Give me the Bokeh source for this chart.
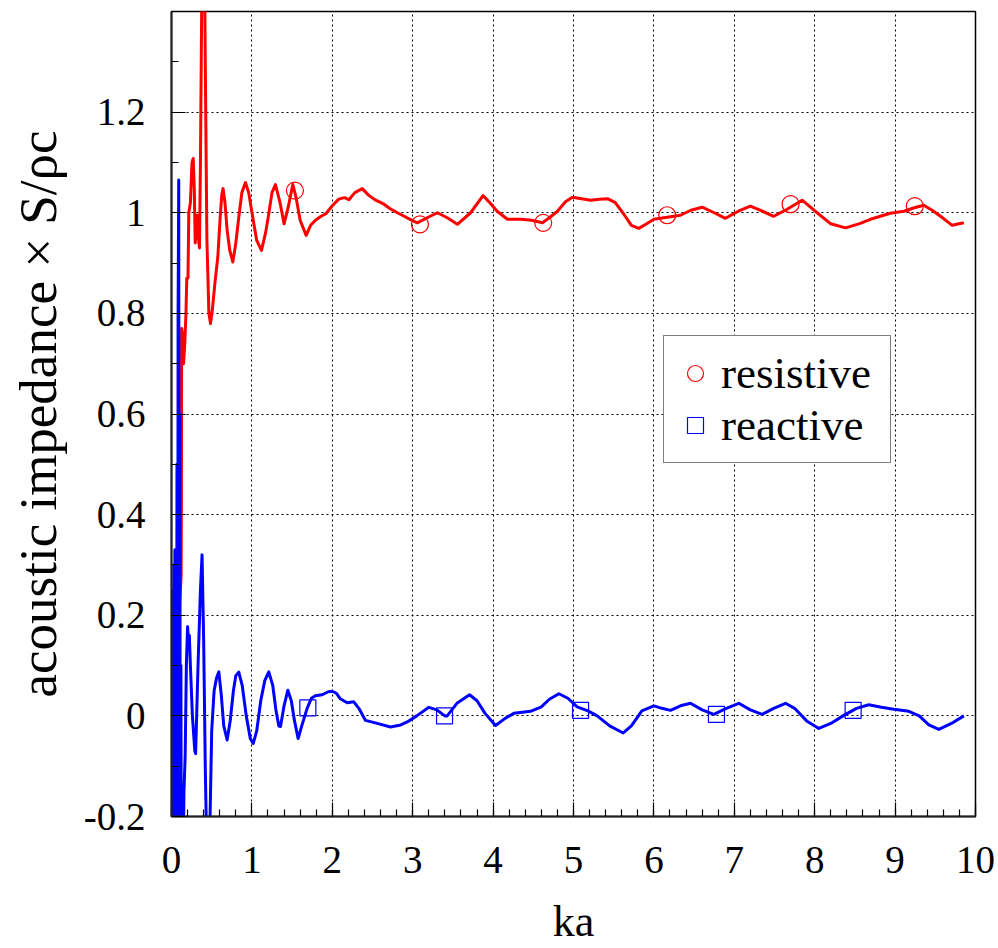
from bokeh.plotting import figure
from bokeh.models import (FixedTicker, CustomJSTickFormatter, Legend, LegendItem, Range1d)
from bokeh.embed import file_html
from bokeh.resources import INLINE

# ---- data ----
res_x = [0.0, 0.05, 0.1, 0.12, 0.123, 0.126, 0.135, 0.15, 0.165, 0.18, 0.19, 0.205, 0.215, 0.235,
         0.255, 0.27, 0.283, 0.295, 0.31, 0.322, 0.335, 0.348, 0.36, 0.375, 0.39, 0.405, 0.42, 0.44,
         0.465, 0.485, 0.51, 0.54, 0.576, 0.605, 0.625, 0.642, 0.665, 0.692, 0.725, 0.763, 0.8, 0.837,
         0.875, 0.92, 0.96, 1.003, 1.06, 1.119, 1.17, 1.21, 1.25, 1.293, 1.35, 1.40, 1.45, 1.509, 1.55,
         1.60, 1.675, 1.73, 1.79, 1.86, 1.92, 2.0, 2.08, 2.15, 2.207, 2.28, 2.373, 2.45, 2.54, 2.643,
         2.72, 2.81, 2.93, 3.057, 3.18, 3.307, 3.43, 3.556, 3.72, 3.875, 3.96, 4.05, 4.178, 4.344, 4.48,
         4.614, 4.70, 4.80, 4.90, 4.987, 5.1, 5.215, 5.32, 5.423, 5.52, 5.626, 5.72, 5.812, 5.91, 6.0,
         6.165, 6.33, 6.46, 6.60, 6.75, 6.89, 7.05, 7.20, 7.35, 7.49, 7.657, 7.844, 7.94, 8.03, 8.2,
         8.383, 8.55, 8.694, 8.94, 9.108, 9.24, 9.357, 9.46, 9.565, 9.71, 9.855]
res_y = [0.0, 0.1, 0.22, 0.28, 0.43, 0.77, 0.76, 0.70, 0.74, 0.80, 0.87, 0.87, 1.0, 1.02,
         1.10, 1.108, 1.05, 0.94, 0.97, 0.995, 0.95, 0.93, 1.1, 1.4, 1.65, 1.6, 1.3, 0.95,
         0.80, 0.78, 0.81, 0.86, 0.912, 0.99, 1.035, 1.048, 1.02, 0.965, 0.925, 0.902, 0.94, 0.991,
         1.04, 1.06, 1.04, 0.998, 0.945, 0.925, 0.96, 0.998, 1.04, 1.056, 1.02, 0.978, 1.01, 1.056, 1.03,
         0.985, 0.955, 0.975, 0.985, 0.993, 0.998, 1.014, 1.027, 1.03, 1.026, 1.04, 1.048, 1.035, 1.025, 1.017,
         1.008, 1.0, 0.99, 0.98, 0.99, 1.0, 0.99, 0.977, 1.0, 1.034, 1.02, 1.003, 0.987, 0.987, 0.985,
         0.980, 0.99, 1.003, 1.022, 1.031, 1.028, 1.025, 1.027, 1.028, 1.02, 0.997, 0.975, 0.969, 0.978, 0.987,
         0.991, 0.995, 1.005, 1.011, 1.0, 0.989, 1.003, 1.013, 1.003, 0.993, 1.007, 1.025, 1.012, 1.0, 0.978,
         0.970, 0.978, 0.987, 0.999, 1.003, 1.01, 1.015, 1.005, 0.993, 0.975, 0.980]

rea_x = [0.0, 0.006, 0.012, 0.018, 0.024, 0.03, 0.036, 0.042, 0.048, 0.055, 0.062, 0.068, 0.075,
         0.082, 0.09, 0.097, 0.104, 0.11, 0.117, 0.125, 0.135, 0.155, 0.17, 0.185,
         0.2, 0.212, 0.222, 0.235, 0.26, 0.29, 0.30, 0.33, 0.36, 0.38, 0.40, 0.42, 0.44, 0.46, 0.48,
         0.5, 0.53, 0.56, 0.589, 0.62, 0.65, 0.692, 0.73, 0.77, 0.80, 0.837, 0.88, 0.93, 0.98, 1.016,
         1.06, 1.11, 1.16, 1.21, 1.26, 1.30, 1.335, 1.356, 1.40, 1.447, 1.49, 1.53, 1.575, 1.62, 1.687,
         1.74, 1.79, 1.874, 1.95, 1.999, 2.05, 2.10, 2.185, 2.268, 2.33, 2.413, 2.558, 2.724, 2.85, 2.932,
         3.05, 3.201, 3.30, 3.40, 3.429, 3.55, 3.707, 3.80, 3.90, 4.03, 4.15, 4.258, 4.466, 4.60, 4.70,
         4.818, 4.93, 5.046, 5.18, 5.295, 5.45, 5.618, 5.72, 5.85, 5.999, 6.1, 6.206, 6.33, 6.455, 6.6,
         6.745, 6.9, 7.056, 7.2, 7.346, 7.49, 7.637, 7.75, 7.9, 8.051, 8.2, 8.362, 8.52, 8.673, 8.83,
         8.984, 9.171, 9.3, 9.42, 9.544, 9.7, 9.855]
rea_y = [0.0, 0.2, -0.3, 0.25, -0.4, 0.3, -0.5, 0.33, -0.6, 0.2, -0.7, 0.5, -0.7, 0.8,
         1.065, -0.5, 0.6, -0.7, 0.1, -0.6, -0.4, -0.15, -0.08, 0.10,
         0.177, 0.15, 0.16, 0.10, 0.0, -0.07, -0.075, 0.1, 0.25, 0.32, 0.15, -0.1, -0.28, -0.32, -0.2,
         -0.03, 0.05, 0.075, 0.0875, 0.04, -0.02, -0.048, -0.01, 0.05, 0.08, 0.087, 0.06, 0.0, -0.045, -0.055,
         -0.03, 0.03, 0.07, 0.0875, 0.06, 0.01, -0.02, -0.021, 0.02, 0.051, 0.03, -0.01, -0.045, -0.02, 0.015,
         0.035, 0.04, 0.042, 0.048, 0.049, 0.045, 0.034, 0.026, 0.028, 0.015, -0.009, -0.015, -0.022, -0.018, -0.012,
         0.0, 0.017, 0.012, 0.0, 0.0, 0.025, 0.042, 0.03, 0.005, -0.019, -0.005, 0.005, 0.009, 0.018, 0.033,
         0.044, 0.035, 0.018, 0.01, 0.0, -0.02, -0.034, -0.02, 0.01, 0.020, 0.015, 0.011, 0.02, 0.025, 0.012,
         0.003, 0.015, 0.025, 0.012, 0.003, 0.015, 0.025, 0.015, -0.01, -0.025, -0.015, 0.001, 0.015, 0.022, 0.017,
         0.013, 0.009, 0.0, -0.018, -0.027, -0.015, 0.0]

res_mark_x = [1.535, 3.09, 4.623, 6.165, 7.70, 9.245]
res_mark_y = [1.044, 0.977, 0.980, 0.995, 1.017, 1.013]
rea_mark_x = [0.0, 1.696, 3.396, 5.088, 6.778, 8.478]
rea_mark_y = [0.0, 0.016, 0.0, 0.011, 0.003, 0.011]

x_ticks = [0, 1, 2, 3, 4, 5, 6, 7, 8, 9, 10]
y_ticks = [-0.2, 0.0, 0.2, 0.4, 0.6, 0.8, 1.0, 1.2]

x_title = "ka"
y_title = "acoustic impedance × S/ρc"
series_names = ["resistive", "reactive"]

FONT = "Liberation Serif"

p = figure(width=998, height=948, output_backend="svg", toolbar_location=None,
           x_range=Range1d(0, 10), y_range=Range1d(-0.2, 1.4),
           min_border_left=171, min_border_right=23, min_border_top=11, min_border_bottom=132,
           background_fill_color="white", border_fill_color="white")

p.outline_line_color = "black"
p.outline_line_width = 1.5

# ticks
x_minor = [round(i * 0.2, 2) for i in range(51)]
y_minor = [round(-0.2 + i * 0.1, 2) for i in range(17)]
p.xaxis.ticker = FixedTicker(ticks=x_ticks, minor_ticks=x_minor)
p.yaxis.ticker = FixedTicker(ticks=y_ticks, minor_ticks=y_minor)
fmt = "var s = tick.toFixed(1); if (s.endsWith('.0')) { s = s.slice(0, -2); } if (s == '-0') { s = '0'; } return s;"
p.xaxis.formatter = CustomJSTickFormatter(code=fmt)
p.yaxis.formatter = CustomJSTickFormatter(code=fmt)

for ax in (p.xaxis[0], p.yaxis[0]):
    ax.major_tick_in = 14
    ax.major_tick_out = 0
    ax.minor_tick_in = 7
    ax.minor_tick_out = 0
    ax.major_tick_line_color = "black"
    ax.minor_tick_line_color = "black"
    ax.major_tick_line_width = 1.2
    ax.minor_tick_line_width = 1.2
    ax.axis_line_color = "#222222"
    ax.axis_line_width = 2
    ax.major_label_text_font = FONT
    ax.major_label_text_font_size = "39px"
    ax.major_label_text_color = "black"
    ax.axis_label_text_font = FONT
    ax.axis_label_text_font_style = "normal"
    ax.axis_label_text_color = "black"

p.xaxis.major_label_standoff = 30
p.xaxis.axis_label = x_title
p.xaxis.axis_label_text_font_size = "44px"
p.xaxis.axis_label_standoff = 21
p.yaxis.major_label_standoff = 26
p.yaxis.axis_label = y_title
p.yaxis.axis_label_text_font_size = "53px"
p.yaxis.axis_label_standoff = 14

# grid
for g in (p.xgrid[0], p.ygrid[0]):
    g.grid_line_color = "black"
    g.grid_line_dash = "2 3"
    g.grid_line_width = 1
p.xgrid.ticker = FixedTicker(ticks=x_ticks)
p.ygrid.ticker = FixedTicker(ticks=y_ticks)

# curves
p.line(res_x, res_y, line_color="#ff0000", line_width=3, line_join="round")
p.line(rea_x, rea_y, line_color="#0000ff", line_width=3, line_join="round")
rm = p.scatter(res_mark_x, res_mark_y, marker="circle", size=17, fill_color=None,
               line_color="#ff0000", line_width=1.2)
bm = p.scatter(rea_mark_x, rea_mark_y, marker="square", size=16, fill_color=None,
               line_color="#0000ff", line_width=1.2)

legend = Legend(items=[LegendItem(label=series_names[0], renderers=[rm]),
                       LegendItem(label=series_names[1], renderers=[bm])],
                location=(492, 353))
legend.label_text_font = FONT
legend.label_text_font_size = "45px"
legend.label_text_color = "black"
legend.glyph_width = 40
legend.glyph_height = 50
legend.label_height = 50
legend.label_width = 158
legend.label_standoff = 6
legend.padding = 11
legend.spacing = 0
legend.margin = 0
legend.border_line_color = "black"
legend.border_line_width = 1.5
legend.background_fill_color = "white"
legend.background_fill_alpha = 1.0
p.add_layout(legend)

open("out.html", "w").write(file_html(p, INLINE))
